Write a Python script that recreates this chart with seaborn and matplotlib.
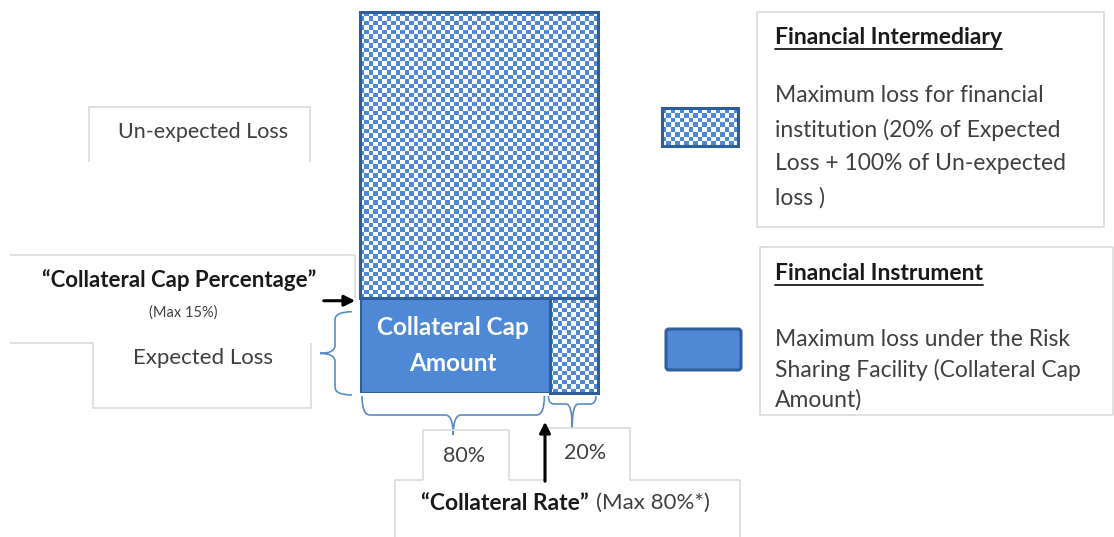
import numpy as np
import matplotlib
matplotlib.use("Agg")
import matplotlib.pyplot as plt
import seaborn as sns
from matplotlib.colors import ListedColormap
from matplotlib.patches import Rectangle, FancyBboxPatch, PathPatch
from matplotlib.path import Path

# values
rate_labels = ["80%", "20%"]
collateral_rate = [80, 20]            # expected loss split: instrument / intermediary
layer_names = ["Expected Loss", "Un-expected Loss"]
layer_share = [25, 75]                # height split of the loss bar (diagram)
cap_pct_label = "(Max 15%)"
rate_label = "(Max 80%*)"
fi_title = "Financial Intermediary"
fi_lines = ["Maximum loss for financial", "institution (20% of Expected",
            "Loss + 100% of Un-expected", "loss )"]
fin_title = "Financial Instrument"
fin_lines = ["Maximum loss under the Risk", "Sharing Facility (Collateral Cap",
             "Amount)"]

W, H = 1114, 537
BLUE = "#4f88d4"
DARK = "#2f5e9c"
BRACE = "#5a8cc8"
EDGE = "#dcdcdc"
GREY = "#404040"
INK = "#1a1a1a"

sns.set_theme(style="white")
plt.rcParams["font.family"] = ["Lato", "DejaVu Sans"]

fig = plt.figure(figsize=(W / 100, H / 100), dpi=100)
fig.patch.set_facecolor("white")


def px_axes(x0, y0, x1, y1):
    a = fig.add_axes([x0 / W, 1 - y1 / H, (x1 - x0) / W, (y1 - y0) / H])
    a.axis("off")
    return a


def checker(a, ncols, nrows):
    board = np.add.outer(np.arange(nrows), np.arange(ncols)) % 2
    a.imshow(board, extent=(0, 100, 0, 100), aspect="auto", origin="lower",
             cmap=ListedColormap(["white", BLUE]), interpolation="nearest", zorder=1)
    a.set_xlim(0, 100)
    a.set_ylim(0, 100)


# main loss bar
BX0, BY0, BX1, BY1 = 360, 12, 598, 393
bx = px_axes(BX0, BY0, BX1, BY1)
checker(bx, 53, 85)
bx.bar(0, layer_share[0], width=collateral_rate[0], align="edge", color=BLUE,
       edgecolor=DARK, lw=2.2, zorder=3)
bx.bar(0, layer_share[1], bottom=layer_share[0], width=100, align="edge",
       fill=False, edgecolor=DARK, lw=2.2, zorder=4, clip_on=False)
bx.bar(collateral_rate[0], layer_share[0], width=collateral_rate[1], align="edge",
       fill=False, edgecolor=DARK, lw=2.2, zorder=4, clip_on=False)
bx.text(collateral_rate[0] / 2 - 1, layer_share[0] / 2, "Collateral Cap\nAmount",
        color="white", fontweight="bold", fontsize=17.5, ha="center", va="center",
        linespacing=1.65, zorder=5)


def bar_x(v):
    return BX0 + v / 100 * (BX1 - BX0)


def bar_y(v):
    return BY1 - v / 100 * (BY1 - BY0)


# overlay in pixel coordinates
ov = fig.add_axes([0, 0, 1, 1])
ov.set_xlim(0, W)
ov.set_ylim(H, 0)
ov.axis("off")
ov.patch.set_alpha(0)
ov.set_zorder(5)


def line(pts, **kw):
    xs, ys = zip(*pts)
    ov.plot(xs, ys, color=kw.get("color", EDGE), lw=kw.get("lw", 1.2),
            solid_capstyle="butt")


# text boxes
line([(89, 162), (89, 107), (310, 107), (310, 162)])
line([(10, 255), (355, 255), (355, 298)])
line([(10, 343), (93, 343), (93, 408), (311, 408), (311, 343)])
line([(423, 480), (423, 430), (509, 430), (509, 480)])
line([(545, 428), (630, 428), (630, 480), (740, 480), (740, 537)])
line([(395, 537), (395, 480), (423, 480)])
line([(509, 480), (545, 480)])
line([(757, 12), (1104, 12), (1104, 227), (757, 227), (757, 12)])
line([(760, 247), (1113, 247), (1113, 415), (760, 415), (760, 247)])


def hbrace(x0, x1, y0, yh, ytip, r=8):
    xm = (x0 + x1) / 2
    verts = [(x0, y0), (x0, yh), (x0 + r, yh), (xm - r, yh), (xm, yh), (xm, ytip),
             (xm, yh), (xm + r, yh), (x1 - r, yh), (x1, yh), (x1, y0)]
    codes = [Path.MOVETO, Path.CURVE3, Path.CURVE3, Path.LINETO, Path.CURVE3, Path.CURVE3,
             Path.CURVE3, Path.CURVE3, Path.LINETO, Path.CURVE3, Path.CURVE3]
    ov.add_patch(PathPatch(Path(verts, codes), fill=False, ec=BRACE, lw=1.2))


def vbrace(y0, y1, x0, xs, xtip, r=8):
    ym = (y0 + y1) / 2
    verts = [(x0, y0), (xs, y0), (xs, y0 + r), (xs, ym - r), (xs, ym), (xtip, ym),
             (xs, ym), (xs, ym + r), (xs, y1 - r), (xs, y1), (x0, y1)]
    codes = [Path.MOVETO, Path.CURVE3, Path.CURVE3, Path.LINETO, Path.CURVE3, Path.CURVE3,
             Path.CURVE3, Path.CURVE3, Path.LINETO, Path.CURVE3, Path.CURVE3]
    ov.add_patch(PathPatch(Path(verts, codes), fill=False, ec=BRACE, lw=1.2))


hbrace(bar_x(0) + 2, bar_x(collateral_rate[0]) - 6, BY1 + 3, 415, 435)
hbrace(bar_x(collateral_rate[0]) - 2, bar_x(100) - 2, BY1 + 3, 404, 428, r=6)
vbrace(bar_y(layer_share[0]) + 14, BY1 + 2, 352, 335, 320)

arrow = dict(arrowstyle="-|>", color="black", lw=2.2, mutation_scale=16)
ov.annotate("", xy=(BX0 - 2, bar_y(layer_share[0]) + 3), xytext=(321, bar_y(layer_share[0]) + 3),
            arrowprops=arrow)
ov.annotate("", xy=(545, 419), xytext=(545, 484), arrowprops=arrow)

# labels
ov.text(203, 132, layer_names[1], color=GREY, fontsize=15.5, ha="center", va="center")
ov.text(179, 280, "\u201cCollateral Cap Percentage\u201d", color=INK, fontsize=16,
        fontweight="bold", ha="center", va="center")
ov.text(183, 313, cap_pct_label, color=GREY, fontsize=10.5, ha="center", va="center")
ov.text(203, 358, layer_names[0], color=GREY, fontsize=16, ha="center", va="center")
ov.text(464, 456, rate_labels[0], color=GREY, fontsize=15.5, ha="center", va="center")
ov.text(585, 453, rate_labels[1], color=GREY, fontsize=15.5, ha="center", va="center")
ov.text(589, 503, "\u201cCollateral Rate\u201d", color=INK, fontsize=16.5,
        fontweight="bold", ha="right", va="center")
ov.text(596, 503, rate_label, color=GREY, fontsize=16, ha="left", va="center")

titles = []
titles.append(ov.text(775, 37, fi_title, color=INK, fontsize=16.5, fontweight="bold",
                      ha="left", va="center"))
for i, s in enumerate(fi_lines):
    ov.text(775, 96 + i * 34, s, color=GREY, fontsize=16.5, ha="left", va="center")
titles.append(ov.text(775, 273, fin_title, color=INK, fontsize=16.5, fontweight="bold",
                      ha="left", va="center"))
for i, s in enumerate(fin_lines):
    ov.text(775, 340 + i * 30, s, color=GREY, fontsize=16.5, ha="left", va="center")

# legend swatches
sw = px_axes(662, 108, 738, 146)
checker(sw, 17, 8)
sw.add_patch(Rectangle((0, 0), 100, 100, fill=False, ec=DARK, lw=2.2, clip_on=False, zorder=3))
ov.add_patch(FancyBboxPatch((666, 329), 75, 41, boxstyle="round,pad=0,rounding_size=3",
                            fc=BLUE, ec=DARK, lw=2.2))

# underline the legend titles
fig.canvas.draw()
inv = ov.transData.inverted()
for t in titles:
    bb = t.get_window_extent()
    (xa, ya), (xb, yb) = inv.transform([(bb.x0, bb.y0), (bb.x1, bb.y1)])
    y = max(ya, yb) + 1
    ov.plot([xa, xb], [y, y], color=INK, lw=1.3)

fig.savefig("out.png", dpi=100)
